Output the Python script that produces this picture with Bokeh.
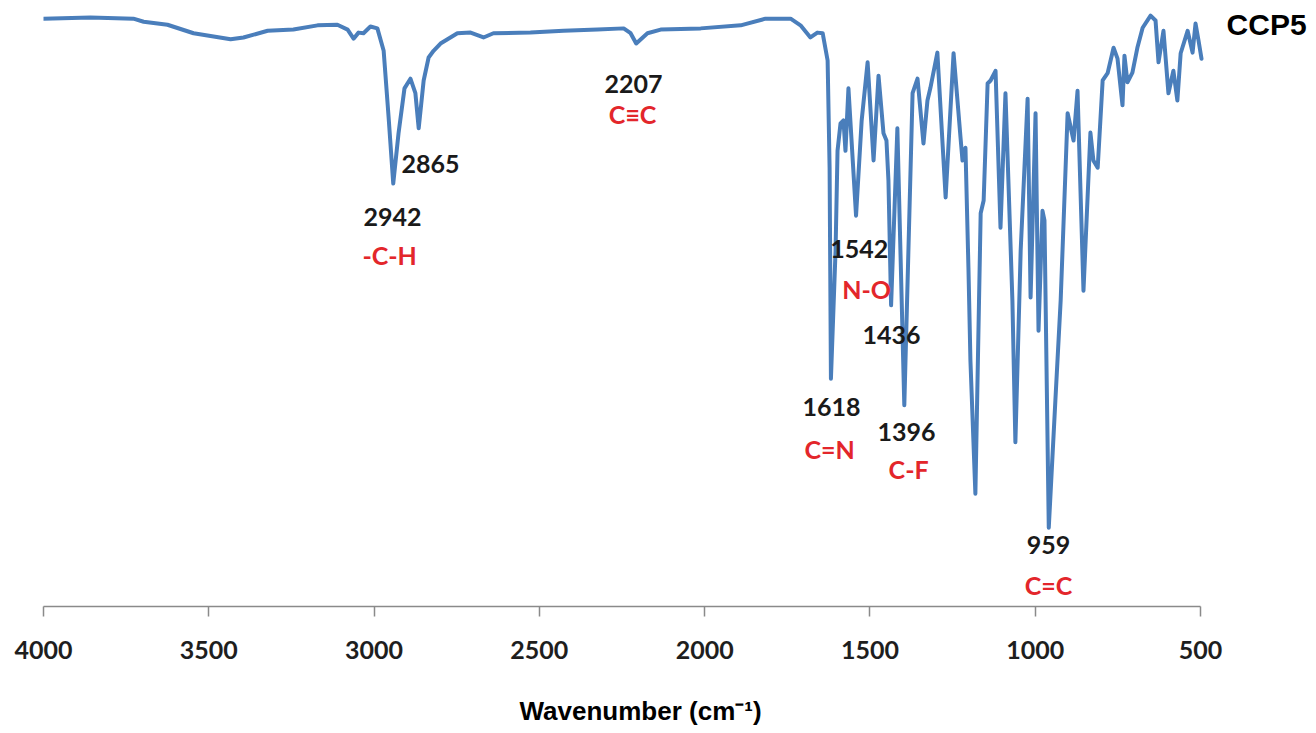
from bokeh.plotting import figure
from bokeh.models import Range1d, Title, FixedTicker, ColumnDataSource
from bokeh.core.properties import value
from bokeh.embed import file_html
from bokeh.resources import INLINE

# ---- spectrum (wavenumber in cm^-1, transmittance in %)
wavenumber = [4000, 3858, 3728, 3697, 3625, 3546, 3434, 3395, 3322, 3244,
              3171, 3111, 3080, 3062, 3047, 3032, 3011, 2990, 2971, 2956,
              2942, 2926, 2908, 2890, 2875, 2865, 2850, 2835, 2820, 2799,
              2748, 2708, 2669, 2639, 2527, 2427, 2324, 2245, 2224, 2207,
              2173, 2133, 2012, 1891, 1816, 1740, 1710, 1680, 1659, 1643,
              1628, 1622, 1618, 1604, 1598, 1589, 1580, 1574, 1565, 1542,
              1525, 1507, 1489, 1474, 1459, 1450, 1444, 1436, 1417, 1396,
              1371, 1356, 1338, 1326, 1317, 1296, 1271, 1247, 1226, 1220,
              1211, 1202, 1196, 1181, 1165, 1156, 1144, 1135, 1120, 1105,
              1090, 1069, 1060, 1044, 1023, 1014, 999, 990, 978, 972,
              959, 939, 923, 902, 884, 872, 854, 833, 824, 811,
              796, 781, 763, 751, 736, 730, 721, 706, 691, 675,
              651, 636, 627, 612, 597, 582, 570, 560, 539, 524,
              515, 506, 497]
transmittance = [97.0, 97.2, 97.0, 96.5, 96.0, 94.6, 93.6, 93.9, 95.0, 95.2,
                 95.9, 96.0, 95.2, 93.7, 94.7, 94.6, 95.7, 95.4, 91.7, 80.7,
                 69.8, 78.1, 85.5, 87.1, 84.7, 78.9, 86.8, 90.6, 91.7, 92.9,
                 94.6, 94.7, 93.9, 94.6, 94.7, 95.0, 95.2, 95.4, 94.6, 92.9,
                 94.6, 95.2, 95.4, 95.9, 97.0, 97.0, 95.9, 93.9, 94.7, 94.6,
                 90.1, 72.4, 37.6, 58.7, 75.2, 79.7, 80.2, 75.2, 85.5, 64.5,
                 80.2, 89.8, 73.6, 87.6, 78.1, 76.9, 70.3, 49.7, 78.9, 33.2,
                 84.7, 87.1, 76.4, 83.5, 85.6, 91.4, 67.5, 91.3, 77.4, 73.6,
                 75.7, 55.9, 40.6, 18.6, 64.9, 67.0, 86.3, 86.8, 88.4, 62.5,
                 84.7, 50.5, 27.1, 58.7, 83.8, 51.0, 81.4, 45.5, 65.3, 63.7,
                 13.0, 34.0, 50.5, 81.4, 76.9, 85.1, 52.1, 78.2, 73.6, 72.4,
                 86.8, 88.0, 92.2, 90.4, 82.7, 90.9, 86.5, 88.1, 92.2, 95.5,
                 97.5, 96.7, 89.8, 95.0, 84.7, 88.4, 83.5, 91.3, 95.0, 91.4,
                 96.2, 93.4, 90.4]

# ---- peak annotations (label anchor positions)
peak_labels = ["2942", "2865", "2207", "1542", "1436", "1618", "1396", "959"]
peak_label_wn = [2944, 2829, 2215, 1532, 1435, 1616, 1389, 960]
peak_label_T = [64.2, 73.0, 86.2, 59.0, 44.8, 32.9, 28.8, 10.1]

group_labels = ["-C-H", "C\u2261C", "N-O", "C=N", "C-F", "C=C"]
group_label_wn = [2953, 2218, 1510, 1622, 1383, 960]
group_label_T = [58.0, 81.2, 52.4, 26.0, 22.7, 3.5]

tick_values = [4000, 3500, 3000, 2500, 2000, 1500, 1000, 500]
sample_name = ["CCP5"]
sample_wn = [300]
sample_T = [96.1]
x_title = "Wavenumber (cm\u207b\u00b9)"

LINE_BLUE = "#4A7EBB"
RED = "#E3262B"

p = figure(width=1316, height=733, output_backend="svg", toolbar_location=None,
           x_range=Range1d(4000, 149.1), y_range=Range1d(0, 100),
           y_axis_location=None,
           min_border_left=43, min_border_right=0, min_border_top=0,
           min_border_bottom=127)
p.grid.visible = False
p.outline_line_color = None
p.background_fill_color = "white"
p.border_fill_color = "white"

ax = p.xaxis[0]
ax.ticker = FixedTicker(ticks=tick_values)
ax.bounds = (500, 4000)
ax.axis_line_color = "#8a8a8a"
ax.axis_line_width = 1.5
ax.major_tick_line_color = "#8a8a8a"
ax.major_tick_line_width = 1.5
ax.major_tick_in = 0
ax.major_tick_out = 10
ax.minor_tick_out = 0
ax.minor_tick_in = 0
ax.major_label_text_font = "Lato"
ax.major_label_text_font_size = "25px"
ax.major_label_text_font_style = "bold"
ax.major_label_text_color = "#1e1e1e"
ax.major_label_standoff = 24
# blank spacer below the tick labels so the title sits lower
ax.axis_label = " "
ax.axis_label_text_font_size = "12px"
ax.axis_label_standoff = 10

p.add_layout(Title(text=x_title, align="left", offset=476, standoff=10,
                   text_font="Liberation Sans", text_font_size="26px",
                   text_font_style="bold", text_color="black"), "below")

p.line(wavenumber, transmittance, line_color=LINE_BLUE, line_width=4,
       line_join="round", line_cap="round")

peak_src = ColumnDataSource(dict(x=peak_label_wn, y=peak_label_T, t=peak_labels))
p.text(x="x", y="y", text="t", source=peak_src, text_font=value("Lato"),
       text_font_size=value("25px"), text_font_style="bold", text_color="#1a1a1a",
       text_align="center", text_baseline="alphabetic")

grp_src = ColumnDataSource(dict(x=group_label_wn, y=group_label_T, t=group_labels))
p.text(x="x", y="y", text="t", source=grp_src, text_font=value("Lato"),
       text_font_size=value("25px"), text_font_style="bold", text_color=RED,
       text_align="center", text_baseline="alphabetic")

p.text(x=sample_wn, y=sample_T, text=sample_name,
       text_font=value("Liberation Sans"), text_font_size=value("30px"),
       text_font_style="bold", text_color="black",
       text_align="center", text_baseline="alphabetic")

open("out.html", "w").write(file_html(p, INLINE))
